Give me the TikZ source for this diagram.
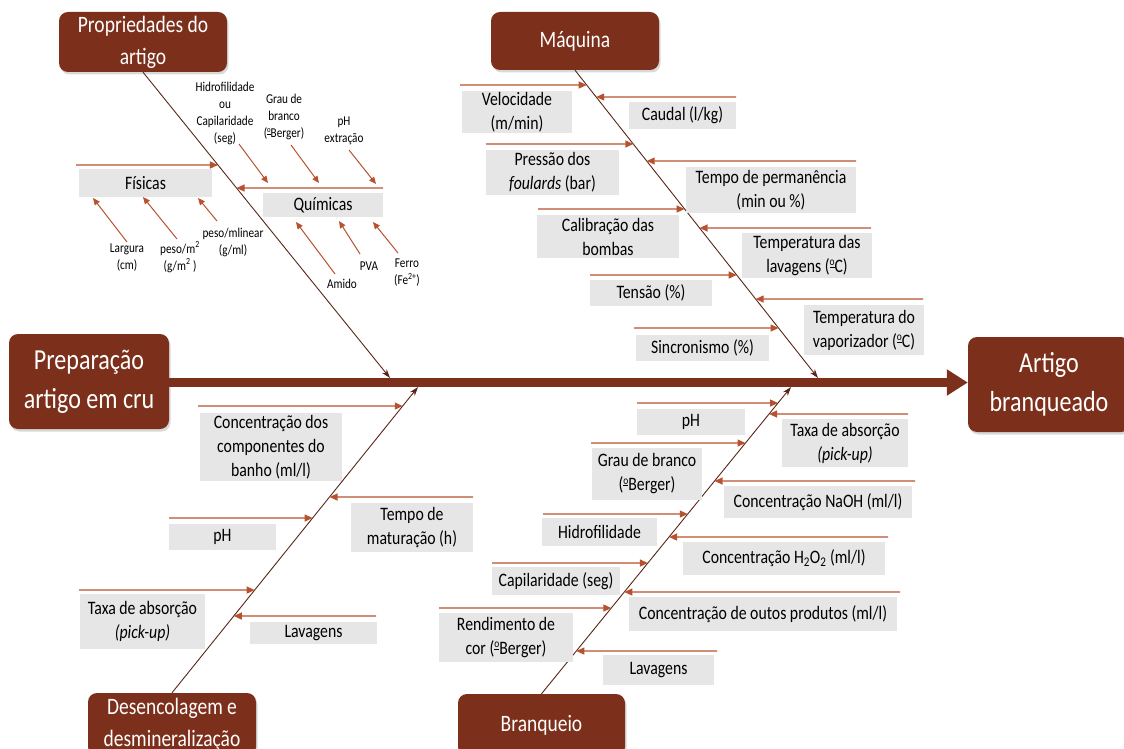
\documentclass[tikz,border=0pt]{standalone}
\usepackage{fontspec}
\setmainfont{Carlito}[FakeStretch=0.83]
\usetikzlibrary{arrows.meta,shadows}

\definecolor{boxbrown}{RGB}{124,47,26}
\definecolor{ribrust}{RGB}{184,82,46}
\definecolor{bonebrown}{RGB}{88,38,24}
\definecolor{lblgray}{RGB}{230,230,230}

\newcommand\lblsize{\fontsize{19}{24}\selectfont}
\newcommand\twigsize{\fontsize{13.5}{17}\selectfont}
\newcommand\headsize{\fontsize{23.5}{32}\selectfont}
\newcommand\bigboxsize{\fontsize{29}{39}\selectfont}
% masculine ordinal with its underline, as in "ºC"
\newcommand\ordo{\raisebox{0.36em}{\fontsize{0.6em}{0.6em}\selectfont\underline{o}}}

% rectangle node given by its corners: style, name, x1, y1, x2, y2, text
\newcommand\cell[7]{\node[#1, minimum width={(#5-#3)*1pt}, minimum height={(#6-#4)*1pt}] (#2) at ({(#3+#5)/2},{(#4+#6)/2}) {#7};}
% horizontal feeder arrow from a start point onto a bone
\newcommand\feed[5]{\coordinate (#1s) at (#4,#5);
  \coordinate (#1t) at (intersection of #2--#3 and #4,#5--0,#5);
  \draw[rib] (#1s) -- (#1t);}

\tikzset{
  cause/.style={fill=boxbrown, rounded corners=9pt, text=white, align=center,
    inner sep=0pt, font=\headsize,
    drop shadow={shadow xshift=1.5pt, shadow yshift=-2.5pt, opacity=0.3}},
  termbox/.style={cause, font=\bigboxsize},
  lbl/.style={fill=lblgray, inner sep=0pt, align=center, font=\lblsize},
  twiglbl/.style={align=center, font=\twigsize, inner sep=0pt},
  bone/.style={draw=bonebrown, line width=0.9pt, -{Stealth[length=9pt,width=6pt]}},
  rib/.style={draw=ribrust, line width=1.3pt, -{Triangle[length=8pt,width=7pt]}},
  twig/.style={draw=ribrust, line width=1pt, -{Triangle[length=7pt,width=6pt]}},
  spine/.style={draw=boxbrown, line width=9pt, -{Triangle[length=21pt,width=25pt]}},
}

\begin{document}
\begin{tikzpicture}[x=1pt, y=-1pt]
\useasboundingbox (0,0) rectangle (1124,749);
\clip (0,0) rectangle (1124,749);

% head, tail and cause boxes
\cell{termbox}{prep}{9}{334}{169}{429}{Preparação\\artigo em cru}
\cell{termbox}{art}{968}{337}{1130}{432}{Artigo\\branqueado}
\cell{cause}{prop}{59}{12}{227}{72}{Propriedades do\\artigo}
\cell{cause}{maq}{491}{12}{659}{70}{Máquina}
\cell{cause}{des}{88}{693}{256}{756}{Desencolagem e\\desmineralização}
\cell{cause}{bran}{458}{694}{625}{756}{Branqueio}

% main spine
\draw[spine] (prep.east |- 0,382.5) -- (art.west |- 0,382.5);

% bones
\coordinate (pTip) at (390,378);
\coordinate (mTip) at (818,378);
\coordinate (dTip) at (418,387);
\coordinate (bTip) at (791,387);
\draw[bone] (prop.south) -- (pTip);
\draw[bone] (maq.south) -- (mTip);
\draw[bone] (des.north) -- (dTip);
\draw[bone] (bran.north) -- (bTip);

% --- Propriedades do artigo ---
\cell{lbl}{fis}{79}{169}{212}{197}{Físicas}
\cell{lbl}{qui}{263}{193}{383}{217}{Químicas}
\feed{fisA}{prop.south}{pTip}{76}{165}
\feed{quiA}{prop.south}{pTip}{383}{188}

\node[twiglbl] (hid) at (225,113) {Hidrofilidade\\ou\\Capilaridade\\(seg)};
\node[twiglbl] (grb) at (284,117) {Grau de\\branco\\(\ordo Berger)};
\node[twiglbl] (phx) at (344,131) {pH\\extração};
\node[twiglbl] (lar) at (127,258) {Largura\\(cm)};
\node[twiglbl] (pm2) at (180,257) {peso/m\textsuperscript{2}\\(g/m\textsuperscript{2} )};
\node[twiglbl] (pml) at (233,242) {peso/mlinear\\(g/ml)};
\node[twiglbl] (ami) at (342,284) {Amido};
\node[twiglbl] (pva) at (369,266) {PVA};
\node[twiglbl] (fer) at (407,273) {Ferro\\(Fe\textsuperscript{2+})};

\coordinate (hidS) at (239,144); \coordinate (hidT) at (268,183);
\coordinate (grbS) at (291,145); \coordinate (grbT) at (319,183);
\coordinate (phxS) at (349,150); \coordinate (phxT) at (376,184);
\coordinate (larS) at (127,242); \coordinate (larT) at (93,198);
\coordinate (pm2S) at (177,239); \coordinate (pm2T) at (143,197);
\coordinate (pmlS) at (217,221); \coordinate (pmlT) at (198,198);
\coordinate (amiS) at (335,274); \coordinate (amiT) at (296,222);
\coordinate (pvaS) at (360,254); \coordinate (pvaT) at (339,221);
\coordinate (ferS) at (398,253); \coordinate (ferT) at (373,222);
\foreach \t in {hid,grb,phx,lar,pm2,pml,ami,pva,fer}
  \draw[twig] (\t S) -- (\t T);

% --- Máquina ---
\cell{lbl}{vel}{462}{91}{572}{133}{Velocidade\\(m/min)}
\cell{lbl}{cau}{629}{102}{736}{129}{Caudal (l/kg)}
\cell{lbl}{pre}{486}{150}{619}{195}{Pressão dos\\\textit{foulards} (bar)}
\cell{lbl}{tpe}{686}{167}{856}{213}{Tempo de permanência\\(min ou \%)}
\cell{lbl}{cal}{537}{215}{679}{258}{Calibração das\\bombas}
\cell{lbl}{tla}{742}{233}{872}{278}{Temperatura das\\lavagens (\ordo C)}
\cell{lbl}{ten}{590}{280}{712}{306}{Tensão (\%)}
\cell{lbl}{tva}{804}{305}{924}{355}{Temperatura do\\vaporizador (\ordo C)}
\cell{lbl}{sin}{636}{335}{769}{361}{Sincronismo (\%)}
\feed{velA}{maq.south}{mTip}{460}{85}
\feed{cauA}{maq.south}{mTip}{736}{97}
\feed{preA}{maq.south}{mTip}{486}{144}
\feed{tpeA}{maq.south}{mTip}{856}{161}
\feed{calA}{maq.south}{mTip}{538}{209}
\feed{tlaA}{maq.south}{mTip}{871}{228}
\feed{tenA}{maq.south}{mTip}{590}{275}
\feed{tvaA}{maq.south}{mTip}{923}{299}
\feed{sinA}{maq.south}{mTip}{634}{328}

% --- Desencolagem e desmineralização ---
\cell{lbl}{ccb}{200}{413}{342}{481}{Concentração dos\\componentes do\\banho (ml/l)}
\cell{lbl}{tma}{351}{503}{473}{552}{Tempo de\\maturação (h)}
\cell{lbl}{dph}{169}{524}{276}{550}{pH}
\cell{lbl}{dtx}{80}{594}{205}{649}{Taxa de absorção\\\textit{(pick-up)}}
\cell{lbl}{dla}{250}{622}{377}{644}{Lavagens}
\feed{ccbA}{des.north}{dTip}{198}{406}
\feed{tmaA}{des.north}{dTip}{473}{497}
\feed{dphA}{des.north}{dTip}{169}{518}
\feed{dtxA}{des.north}{dTip}{79}{590}
\feed{dlaA}{des.north}{dTip}{376}{616}

% --- Branqueio ---
\cell{lbl}{bph}{637}{409}{745}{435}{pH}
\cell{lbl}{btx}{782}{419}{908}{467}{Taxa de absorção\\\textit{(pick-up)}}
\cell{lbl}{bgr}{592}{448}{702}{500}{Grau de branco\\(\ordo Berger)}
\cell{lbl}{bna}{724}{486}{912}{518}{Concentração NaOH (ml/l)}
\cell{lbl}{bhi}{542}{518}{657}{546}{Hidrofilidade}
\cell{lbl}{bho}{683}{542}{885}{575}{Concentração H\textsubscript{2}O\textsubscript{2} (ml/l)}
\cell{lbl}{bca}{492}{567}{620}{595}{Capilaridade (seg)}
\cell{lbl}{bou}{629}{597}{897}{631}{Concentração de outos produtos (ml/l)}
\cell{lbl}{bre}{439}{613}{573}{662}{Rendimento de\\cor (\ordo Berger)}
\cell{lbl}{bla}{603}{655}{714}{685}{Lavagens}
\feed{bphA}{bran.north}{bTip}{637}{403}
\feed{btxA}{bran.north}{bTip}{908}{414}
\feed{bgrA}{bran.north}{bTip}{591}{443}
\feed{bnaA}{bran.north}{bTip}{915}{481}
\feed{bhiA}{bran.north}{bTip}{543}{514}
\feed{bhoA}{bran.north}{bTip}{888}{537}
\feed{bcaA}{bran.north}{bTip}{492}{563}
\feed{bouA}{bran.north}{bTip}{900}{592}
\feed{breA}{bran.north}{bTip}{439}{608}
\feed{blaA}{bran.north}{bTip}{717}{651}
\end{tikzpicture}
\end{document}
